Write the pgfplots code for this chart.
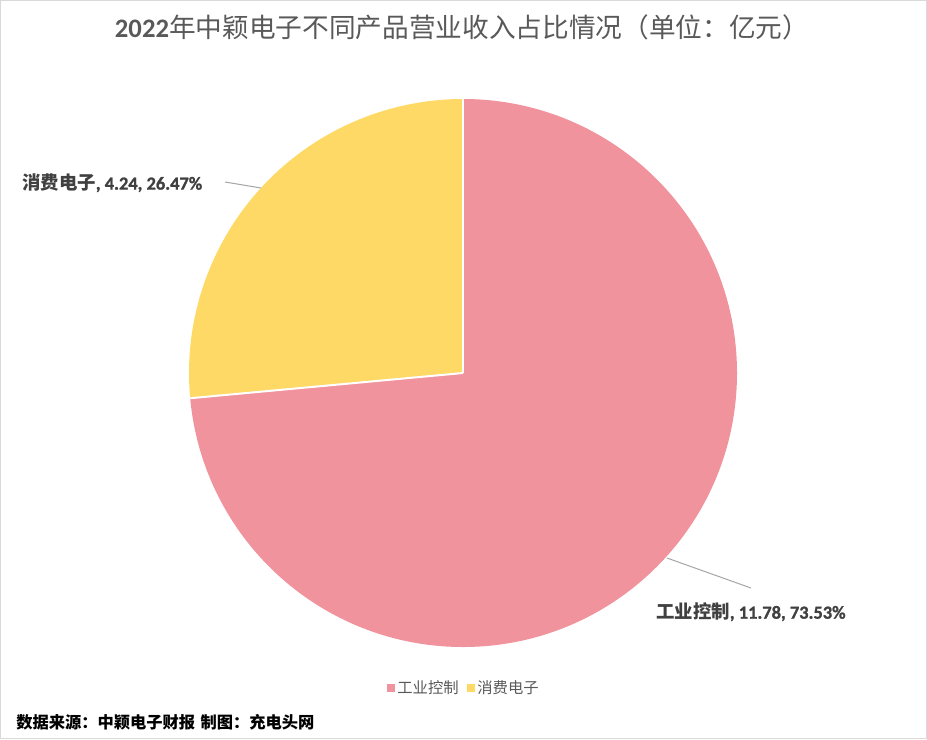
\documentclass[border=0pt]{standalone}
\usepackage{pgfplots}
\pgfplotsset{compat=1.18}
\usepackage{pgfplotstable}
\usepackage{fontspec}
\setmainfont{Carlito}[BoldFont={Carlito Bold}]
\newfontfamily\cjk{Noto Sans CJK SC}
\newfontfamily\numbf{Carlito Bold}[FakeBold=1.2]
\definecolor{PinkSlice}{HTML}{F0939D}
\definecolor{GoldSlice}{HTML}{FED966}
\definecolor{TitleGray}{HTML}{595959}
\definecolor{LabelGray}{HTML}{404040}
\definecolor{FrameGray}{HTML}{D9D9D9}
\definecolor{LeaderGray}{HTML}{A6A6A6}

% revenue by product line, 100 million CNY
\pgfplotstableread{
name value
industrial 11.78
consumer 4.24
}\revenue

\begin{document}
\begin{tikzpicture}
\pgfplotstablegetelem{0}{value}\of\revenue \let\valA\pgfplotsretval
\pgfplotstablegetelem{1}{value}\of\revenue \let\valB\pgfplotsretval
\pgfmathsetmacro{\sweepA}{360*\valA/(\valA+\valB)}
\pgfmathsetmacro{\splitAng}{90-\sweepA}
\def\rad{205.5pt}
\begin{axis}[
    width=695.25pt, height=554.25pt,
    scale only axis,
    xmin=0, xmax=927, ymin=0, ymax=739,
    y dir=reverse,
    hide axis,
    clip=false,
    legend style={
        at={(axis cs:464,688)}, anchor=center,
        draw=none, fill=none,
        legend columns=2,
        font=\fontsize{11.5}{13}\selectfont\cjk\color{TitleGray},
        /tikz/every even column/.append style={column sep=4pt}
    },
    legend image code/.code={
        \fill[#1, draw=none] (0.5pt,-3pt) rectangle (6.5pt,3pt);
    },
]
    % frame
    \draw[FrameGray, line width=0.75pt] (axis cs:0.5,0.5) rectangle (axis cs:926.5,738.5);

    % slices
    \fill[PinkSlice] (axis cs:463,373) -- ++(90:\rad)
        arc[start angle=90, end angle=\splitAng, radius=\rad] -- cycle;
    \fill[GoldSlice] (axis cs:463,373) -- ++(\splitAng:\rad)
        arc[start angle=\splitAng, end angle=-270, radius=\rad] -- cycle;
    \draw[white, line width=1.5pt] (axis cs:463,373) -- ++(90:\rad);
    \draw[white, line width=1.5pt] (axis cs:463,373) -- ++(\splitAng:\rad);

    \addlegendimage{fill=PinkSlice, draw=none}
    \addlegendentry{工业控制}
    \addlegendimage{fill=GoldSlice, draw=none}
    \addlegendentry{消费电子}

    % leader lines
    \draw[LeaderGray, line width=0.75pt] (axis cs:225,182) -- (axis cs:261,188);
    \draw[LeaderGray, line width=0.75pt] (axis cs:667,558) -- (axis cs:751,588);

    % data labels
    \node[anchor=west, inner sep=0pt, text=LabelGray, font=\fontsize{13.8}{15}\selectfont]
        at (axis cs:22,183) {{\cjk\bfseries 消费电子}{\numbf , 4.24, 26.47\%}};
    \node[anchor=west, inner sep=0pt, text=LabelGray, font=\fontsize{13.8}{15}\selectfont]
        at (axis cs:656,612) {{\cjk\bfseries 工业控制}{\numbf , 11.78, 73.53\%}};

    % title
    \node[anchor=center, inner sep=0pt, text=TitleGray, font=\fontsize{20}{22}\selectfont]
        at (axis cs:462,27) {\textbf{2022}{\cjk 年中颖电子不同产品营业收入占比情况（单位：亿元）}};

    % source note
    \node[anchor=west, inner sep=0pt, font=\fontsize{12.2}{14}\selectfont\cjk\bfseries]
        at (axis cs:16,722) {数据来源：中颖电子财报\hspace{4pt}制图：充电头网};
\end{axis}
\end{tikzpicture}
\end{document}
